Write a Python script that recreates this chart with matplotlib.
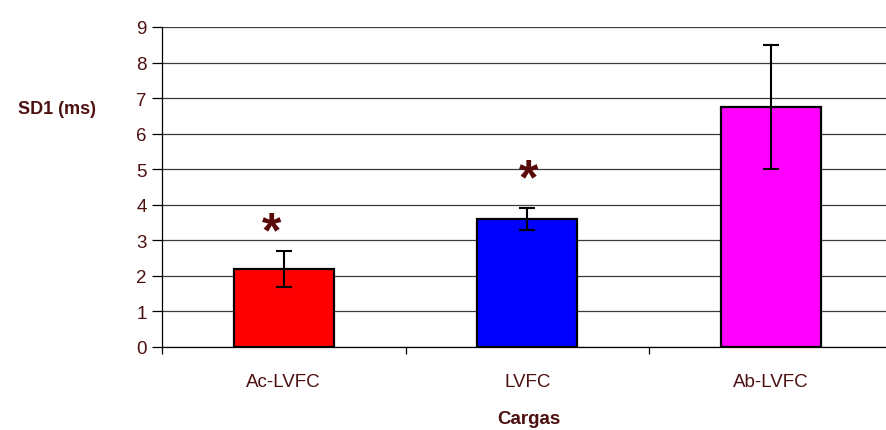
import matplotlib.pyplot as plt
import numpy as np

plt.rcParams['font.family'] = ['Liberation Sans', 'DejaVu Sans']

categories = ["Ac-LVFC", "LVFC", "Ab-LVFC"]
values = [2.2, 3.6, 6.75]
errors = [0.5, 0.3, 1.75]
colors = ["#ff0000", "#0000ff", "#ff00ff"]
star_heights = [3.2, 4.7, None]

text_color = "#4d1010"

fig = plt.figure(figsize=(8.86, 4.31), dpi=100)
ax = fig.add_axes([162 / 886, 1 - 348 / 431, 730.5 / 886, 320 / 431])

x = np.arange(len(categories))
ax.bar(x, values, width=0.41, color=colors, edgecolor="black", linewidth=1.6, zorder=3)
ax.errorbar(x, values, yerr=errors, fmt="none", ecolor="black", elinewidth=1.5,
            capsize=6, capthick=1.5, zorder=4)

for xi, h in zip(x, star_heights):
    if h is not None:
        ax.text(xi - 0.05 if xi == 0 else xi + 0.005, h, "*", ha="center", va="center",
                fontsize=36, fontweight="bold", color="#5a0a0a", zorder=5)

ax.set_xlim(-0.5, 2.5)
ax.set_ylim(0, 9)
ax.set_yticks(range(0, 10))
ax.yaxis.grid(True, color="#3a3a3a", linewidth=0.9, zorder=0)
ax.set_axisbelow(True)

ax.set_xticks([-0.5, 0.5, 1.5, 2.5])
ax.set_xticklabels([])
ax.set_xticks(x, minor=True)
ax.set_xticklabels(categories, minor=True)
ax.tick_params(axis="x", which="minor", length=0, pad=19, labelsize=13.5, labelcolor=text_color)
ax.tick_params(axis="x", which="major", length=5, width=0.9, direction="out")
ax.tick_params(axis="y", length=7, width=0.9, direction="out", labelsize=13.5,
               labelcolor=text_color, pad=4)

for s in ["top", "right"]:
    ax.spines[s].set_visible(False)
ax.spines["left"].set_linewidth(0.9)
ax.spines["bottom"].set_linewidth(0.9)

fig.text(57 / 886, 1 - 110 / 431, "SD1 (ms)", ha="center", va="center",
         fontsize=13, fontweight="bold", color=text_color)
fig.text(529 / 886, 1 - 420 / 431, "Cargas", ha="center", va="center",
         fontsize=13.5, fontweight="bold", color=text_color)

fig.savefig("out.png", dpi=100)
